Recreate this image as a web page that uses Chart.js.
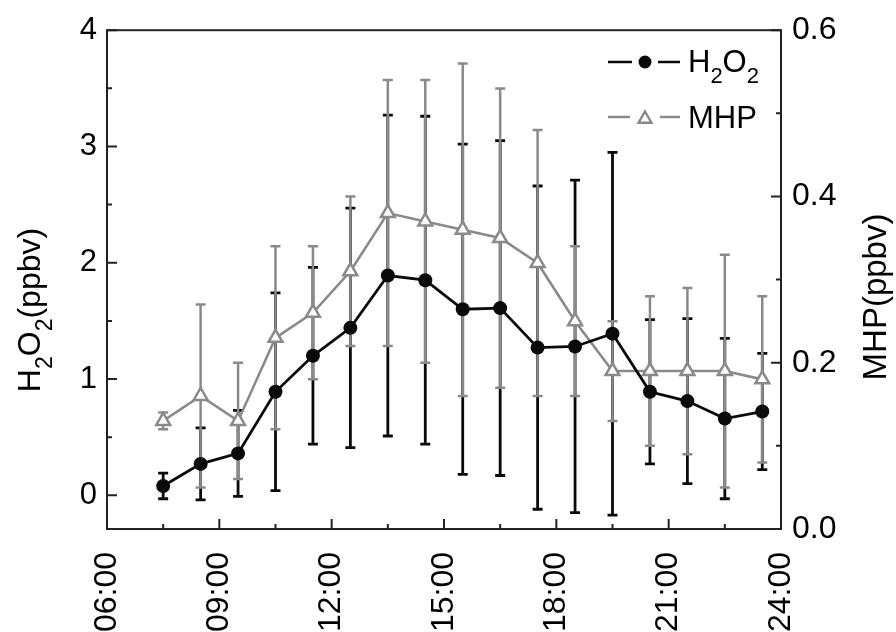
<!DOCTYPE html>
<html>
<head>
<meta charset="utf-8">
<title>H2O2 and MHP diurnal variation</title>
<script src="https://cdn.jsdelivr.net/npm/chart.js@4.4.1/dist/chart.umd.min.js"></script>
<style>
  html, body { margin: 0; padding: 0; background: #fff; }
  #wrap { width: 896px; height: 632px; position: relative; }
</style>
</head>
<body>
<div id="wrap"><canvas id="peroxideChart"></canvas></div>
<script>
// hourly means (local time, centre of each hour)
const hours = [7.5, 8.5, 9.5, 10.5, 11.5, 12.5, 13.5, 14.5, 15.5, 16.5, 17.5, 18.5, 19.5, 20.5, 21.5, 22.5, 23.5];
const h2o2Mean = [0.08, 0.27, 0.36, 0.89, 1.20, 1.44, 1.89, 1.85, 1.60, 1.61, 1.27, 1.28, 1.39, 0.89, 0.81, 0.66, 0.72];
const h2o2Sd   = [0.11, 0.31, 0.37, 0.85, 0.76, 1.03, 1.38, 1.41, 1.42, 1.44, 1.39, 1.43, 1.56, 0.62, 0.71, 0.69, 0.50];
const mhpMean  = [0.13, 0.16, 0.13, 0.23, 0.26, 0.31, 0.38, 0.37, 0.36, 0.35, 0.32, 0.25, 0.19, 0.19, 0.19, 0.19, 0.18];
const mhpSd    = [0.01, 0.11, 0.07, 0.11, 0.08, 0.09, 0.16, 0.17, 0.20, 0.18, 0.16, 0.09, 0.06, 0.09, 0.10, 0.14, 0.10];

const xTicks = [6, 9, 12, 15, 18, 21, 24];
const xMinorTicks = [7.5, 10.5, 13.5, 16.5, 19.5, 22.5];
const leftTicks = [0, 1, 2, 3, 4];
const leftMinorTicks = [0.5, 1.5, 2.5, 3.5];
const rightTicks = [0, 0.2, 0.4, 0.6];
const rightMinorTicks = [0.1, 0.3, 0.5];

const FONT = "'Liberation Sans', Arial, Helvetica, sans-serif";
const BLACK = '#0a0a0a';
const GREY = '#8a8a8a';

// text with subscripts: parts = [[text, isSub], ...]
function drawRich(ctx, parts, x, y, size, align) {
    const subSize = Math.round(size * 0.72);
    const widths = parts.map(function(p) {
        ctx.font = (p[1] ? subSize : size) + 'px ' + FONT;
        return ctx.measureText(p[0]).width;
    });
    const total = widths.reduce(function(a, b) { return a + b; }, 0);
    let cx = align === 'center' ? x - total / 2 : x;
    ctx.textAlign = 'left';
    ctx.textBaseline = 'alphabetic';
    parts.forEach(function(p, i) {
        ctx.font = (p[1] ? subSize : size) + 'px ' + FONT;
        ctx.fillText(p[0], cx, p[1] ? y + size * 0.36 : y);
        cx += widths[i];
    });
}

function drawTriangle(ctx, x, y, r) {
    ctx.beginPath();
    ctx.moveTo(x, y - r);
    ctx.lineTo(x + r * Math.sin(Math.PI / 3), y + r / 2);
    ctx.lineTo(x - r * Math.sin(Math.PI / 3), y + r / 2);
    ctx.closePath();
}

function drawBars(ctx, xs, ys, mean, sd, color, width) {
    ctx.strokeStyle = color;
    ctx.lineWidth = width;
    hours.forEach(function(h, i) {
        const px = xs.getPixelForValue(h);
        const top = ys.getPixelForValue(mean[i] + sd[i]);
        const bot = ys.getPixelForValue(mean[i] - sd[i]);
        ctx.beginPath();
        ctx.moveTo(px, top); ctx.lineTo(px, bot);
        ctx.moveTo(px - 5, top); ctx.lineTo(px + 5, top);
        ctx.moveTo(px - 5, bot); ctx.lineTo(px + 5, bot);
        ctx.stroke();
    });
}

const framePlugin = {
    id: 'frame',
    beforeDatasetsDraw(chart) {
        const ctx = chart.ctx;
        const a = chart.chartArea;
        const sx = chart.scales.x, yl = chart.scales.yLeft, yr = chart.scales.yRight;
        ctx.save();
        ctx.strokeStyle = '#222';
        ctx.lineWidth = 2;
        ctx.strokeRect(a.left, a.top, a.right - a.left, a.bottom - a.top);
        ctx.beginPath();
        xTicks.forEach(function(v) { const p = sx.getPixelForValue(v); ctx.moveTo(p, a.bottom); ctx.lineTo(p, a.bottom - 10); });
        xMinorTicks.forEach(function(v) { const p = sx.getPixelForValue(v); ctx.moveTo(p, a.bottom); ctx.lineTo(p, a.bottom - 5); });
        leftTicks.forEach(function(v) { const p = yl.getPixelForValue(v); ctx.moveTo(a.left, p); ctx.lineTo(a.left + 10, p); });
        leftMinorTicks.forEach(function(v) { const p = yl.getPixelForValue(v); ctx.moveTo(a.left, p); ctx.lineTo(a.left + 5, p); });
        rightTicks.forEach(function(v) { const p = yr.getPixelForValue(v); ctx.moveTo(a.right, p); ctx.lineTo(a.right - 10, p); });
        rightMinorTicks.forEach(function(v) { const p = yr.getPixelForValue(v); ctx.moveTo(a.right, p); ctx.lineTo(a.right - 5, p); });
        ctx.stroke();

        drawBars(ctx, sx, yl, h2o2Mean, h2o2Sd, BLACK, 2.8);
        drawBars(ctx, sx, yr, mhpMean, mhpSd, GREY, 2.5);
        ctx.restore();
    },
    afterDraw(chart) {
        const ctx = chart.ctx;
        ctx.save();
        ctx.fillStyle = '#000';

        // axis titles
        ctx.save();
        ctx.translate(40, 310);
        ctx.rotate(-Math.PI / 2);
        drawRich(ctx, [['H', 0], ['2', 1], ['O', 0], ['2', 1], ['(ppbv)', 0]], 0, 0, 32, 'center');
        ctx.restore();

        ctx.save();
        ctx.translate(886, 297);
        ctx.rotate(-Math.PI / 2);
        drawRich(ctx, [['MHP(ppbv)', 0]], 0, 0, 33, 'center');
        ctx.restore();

        // legend
        ctx.lineWidth = 2.4;
        ctx.strokeStyle = BLACK;
        ctx.beginPath();
        ctx.moveTo(608, 62); ctx.lineTo(632, 62);
        ctx.moveTo(658, 62); ctx.lineTo(680, 62);
        ctx.stroke();
        ctx.fillStyle = BLACK;
        ctx.beginPath();
        ctx.arc(645, 62, 6.5, 0, Math.PI * 2);
        ctx.fill();

        ctx.strokeStyle = GREY;
        ctx.beginPath();
        ctx.moveTo(608, 117); ctx.lineTo(630, 117);
        ctx.moveTo(660, 117); ctx.lineTo(680, 117);
        ctx.stroke();
        ctx.fillStyle = '#fff';
        drawTriangle(ctx, 645, 119, 7.5);
        ctx.fill();
        ctx.stroke();

        ctx.fillStyle = '#000';
        drawRich(ctx, [['H', 0], ['2', 1], ['O', 0], ['2', 1]], 688, 72, 31, 'left');
        drawRich(ctx, [['MHP', 0]], 688, 128, 31, 'left');
        ctx.restore();
    }
};

function initPeroxideChart(canvasEl) {
    if (!canvasEl) return;
    const ctx = canvasEl.getContext('2d');

    return new Chart(ctx, {
        type: 'line',
        data: {
            datasets: [{
                label: 'H2O2',
                data: hours.map(function(h, i) { return { x: h, y: h2o2Mean[i] }; }),
                yAxisID: 'yLeft',
                borderColor: BLACK,
                borderWidth: 2.8,
                backgroundColor: BLACK,
                pointStyle: 'circle',
                pointRadius: 7,
                pointBorderWidth: 0,
                tension: 0
            }, {
                label: 'MHP',
                data: hours.map(function(h, i) { return { x: h, y: mhpMean[i] }; }),
                yAxisID: 'yRight',
                borderColor: GREY,
                borderWidth: 2.6,
                backgroundColor: '#fff',
                pointStyle: 'triangle',
                pointRadius: 8,
                pointBorderWidth: 2.5,
                pointBorderColor: GREY,
                tension: 0
            }]
        },
        options: {
            responsive: true,
            maintainAspectRatio: false,
            animation: false,
            layout: { padding: { top: 28, left: 0, right: 0, bottom: 0 } },
            plugins: {
                legend: { display: false },
                tooltip: { enabled: false }
            },
            scales: {
                x: {
                    type: 'linear',
                    min: 6,
                    max: 24,
                    grid: { display: false, drawTicks: false },
                    border: { display: false },
                    afterBuildTicks: function(scale) { scale.ticks = xTicks.map(function(v) { return { value: v }; }); },
                    afterFit: function(scale) { scale.height = 103; },
                    ticks: {
                        autoSkip: false,
                        minRotation: 90,
                        maxRotation: 90,
                        padding: 23,
                        color: '#000',
                        font: { family: FONT, size: 32 },
                        callback: function(v) { return String(v).padStart(2, '0') + ':00'; }
                    }
                },
                yLeft: {
                    type: 'linear',
                    position: 'left',
                    min: -0.29,
                    max: 4,
                    grid: { display: false, drawTicks: false },
                    border: { display: false },
                    afterBuildTicks: function(scale) { scale.ticks = leftTicks.map(function(v) { return { value: v }; }); },
                    afterFit: function(scale) { scale.width = 107; },
                    ticks: {
                        padding: 10,
                        color: '#000',
                        font: { family: FONT, size: 31 },
                        callback: function(v) { return String(v); }
                    }
                },
                yRight: {
                    type: 'linear',
                    position: 'right',
                    min: 0,
                    max: 0.6,
                    grid: { display: false, drawTicks: false },
                    border: { display: false },
                    afterBuildTicks: function(scale) { scale.ticks = rightTicks.map(function(v) { return { value: v }; }); },
                    afterFit: function(scale) { scale.width = 115; },
                    ticks: {
                        padding: 11,
                        color: '#000',
                        font: { family: FONT, size: 32 },
                        callback: function(v) { return v.toFixed(1); }
                    }
                }
            }
        },
        plugins: [framePlugin]
    });
}

document.addEventListener('DOMContentLoaded', function() {
    initPeroxideChart(document.getElementById('peroxideChart'));
});
</script>
</body>
</html>
